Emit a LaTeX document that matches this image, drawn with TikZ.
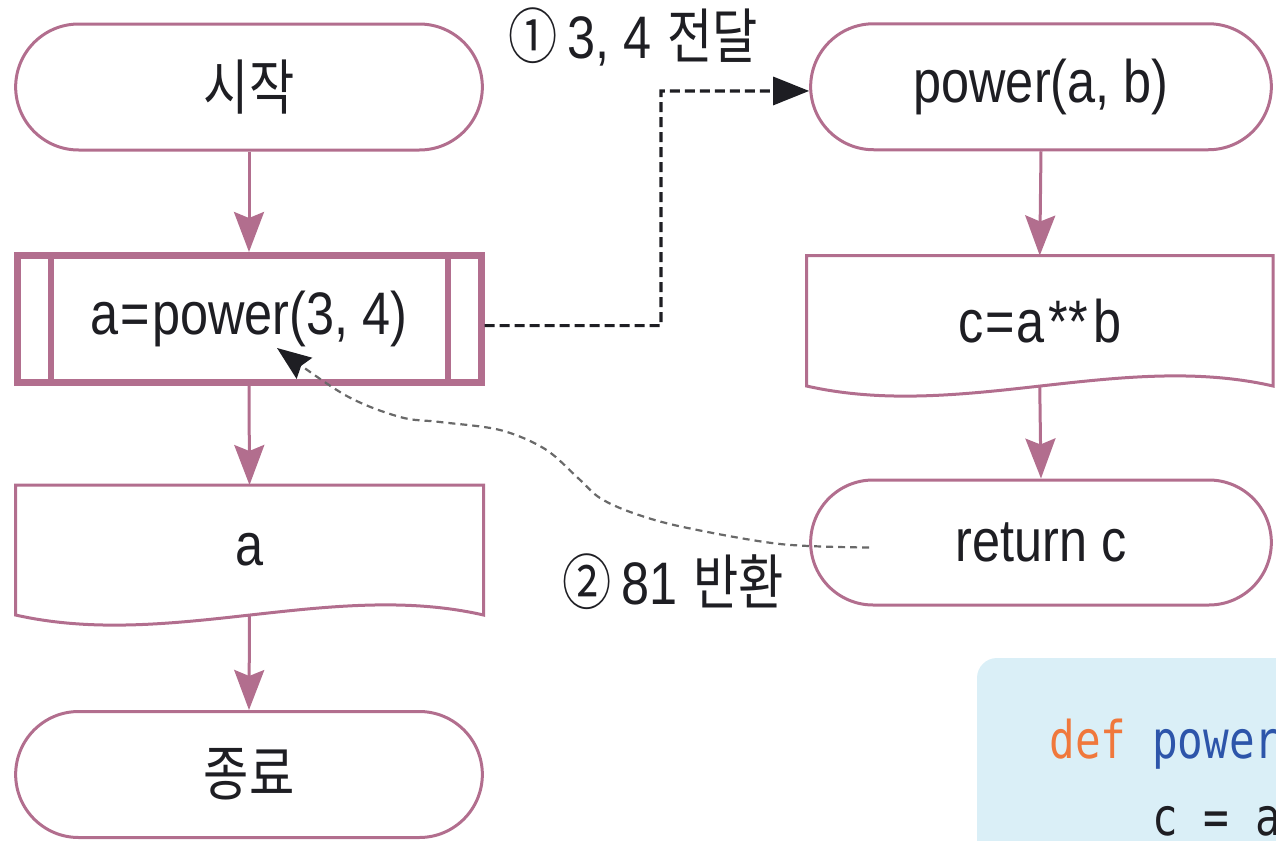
\documentclass[tikz,border=0pt]{standalone}
\usepackage{fontspec}
\setmainfont{Liberation Sans}[FakeStretch=0.84]
\newfontfamily\krfont{Noto Sans CJK KR}[FakeStretch=0.82]
\newfontfamily\codefnt{DejaVu Sans Mono}[FakeStretch=0.82]
\usetikzlibrary{shapes.misc,arrows.meta}
\definecolor{pk}{RGB}{178,110,142}
\definecolor{codebg}{RGB}{218,239,247}
\definecolor{kwd}{RGB}{240,120,60}
\definecolor{fn}{RGB}{45,85,170}
\definecolor{dgray}{RGB}{105,105,105}
\definecolor{ink}{RGB}{30,30,35}
\begin{document}
\begin{tikzpicture}[x=0.5pt,y=-0.5pt,
  txt/.style={font=\fontsize{30}{36}\selectfont, text=ink},
  term/.style={txt, rounded rectangle, draw=pk, line width=1.5pt, minimum height=63pt},
  procbox/.style={txt, rectangle, draw=pk, line width=3.5pt, minimum width=232pt, minimum height=63.5pt},
  docbox/.style={txt, rectangle, inner sep=0pt, outer sep=0pt},
  docline/.style={draw=pk, line width=1.5pt, line join=miter},
  pkarrow/.style={draw=pk, line width=1.5pt, -{Stealth[length=20pt,width=15pt,inset=3pt]}},
  blackdash/.style={draw=ink, line width=1.6pt, dash pattern=on 5pt off 2.5pt, -{Triangle[length=18pt,width=14pt]}},
  graydash/.style={draw=dgray, line width=1.1pt, dash pattern=on 3.5pt off 2.5pt, -{Stealth[length=17pt,width=13pt,inset=2pt,color=ink]}},
  lbl/.style={font=\fontsize{30}{36}\selectfont, text=ink, inner sep=0pt}
]
\useasboundingbox (0,0) rectangle (1276,841);

% code box (clipped by the page, as in the reference)
\begin{scope}
  \clip (0,0) rectangle (1276,841);
  \fill[codebg, rounded corners=10pt] (977,658) rectangle (1340,910);
  \node[anchor=base west, inner sep=0pt, font=\codefnt\fontsize{26}{30}\selectfont] (c1) at (1049,758)
    {\textcolor{kwd}{def} \textcolor{fn}{power}};
  \node[anchor=base west, inner sep=0pt, font=\codefnt\fontsize{26}{30}\selectfont, text=ink] (c2) at (1152,835)
    {c = a};
\end{scope}

% left column
\node[term, minimum width=240pt, font=\krfont\fontsize{30}{36}\selectfont] (start) at (249,87) {시작};
\node[procbox] (proc) at (249,319) {a\kern1pt=\kern1pt power(3, 4)};
\draw[pk, line width=3pt] ([xshift=18.5pt]proc.north west) -- ([xshift=18.5pt]proc.south west);
\draw[pk, line width=3pt] ([xshift=-18.5pt]proc.north east) -- ([xshift=-18.5pt]proc.south east);
\node[docbox, minimum width=234pt, minimum height=65pt] (out) at (249.5,550) {a};
\draw[docline] (out.south west) -- (out.north west) -- (out.north east) -- (out.south east)
  .. controls +(-153,-35) and +(155,35) .. (out.south west) -- cycle;
\node[term, minimum width=240pt, font=\krfont\fontsize{30}{36}\selectfont] (stop) at (249,774.5) {종료};

% right column
\node[term, minimum width=237pt] (power) at (1041,86.75) {power(a, b)};
\node[docbox, minimum width=233.25pt, minimum height=65.25pt] (calc) at (1039.75,320.75) {c\kern1pt=\kern1pt a\kern2pt**\kern2.5pt b};
\draw[docline] (calc.south west) -- (calc.north west) -- (calc.north east) -- (calc.south east)
  .. controls +(-153,-35) and +(155,35) .. (calc.south west) -- cycle;
\node[term, minimum width=237pt, minimum height=62.5pt] (ret) at (1041,542.5) {return c};

% flow arrows
\draw[pkarrow] (start.south) -- (proc.north);
\draw[pkarrow] (proc.south) -- (out.north);
\draw[pkarrow] (out.south) -- (stop.north);
\draw[pkarrow] (power.south) -- (calc.north);
\draw[pkarrow] (calc.south) -- (ret.north);

% call arrow
\coordinate (bend) at (661,91);
\draw[blackdash] ([yshift=-3.3pt]proc.east) -| (bend) -- ([yshift=-2.1pt]power.west);
\node[lbl] (l1) at (633,37) {{\krfont ①}\hspace{5pt}3,\hspace{7pt}4\hspace{8pt}{\krfont 전달}};

% return arrow
\coordinate (rstart) at ([xshift=30pt,yshift=-2.5pt]ret.west);
\coordinate (rtip) at ([xshift=14pt,yshift=-14.5pt]proc.center);
\draw[graydash] plot[smooth, tension=0.55] coordinates {(rstart) (780,544) (683,527) (633,513) (600,498) (578,478) (545,449) (500,430) (440,422) (400,417) (345,395) (rtip)};
\node[lbl] (l2) at (673,582) {{\krfont ②}\hspace{5pt}81\hspace{8pt}{\krfont 반환}};
\end{tikzpicture}
\end{document}
